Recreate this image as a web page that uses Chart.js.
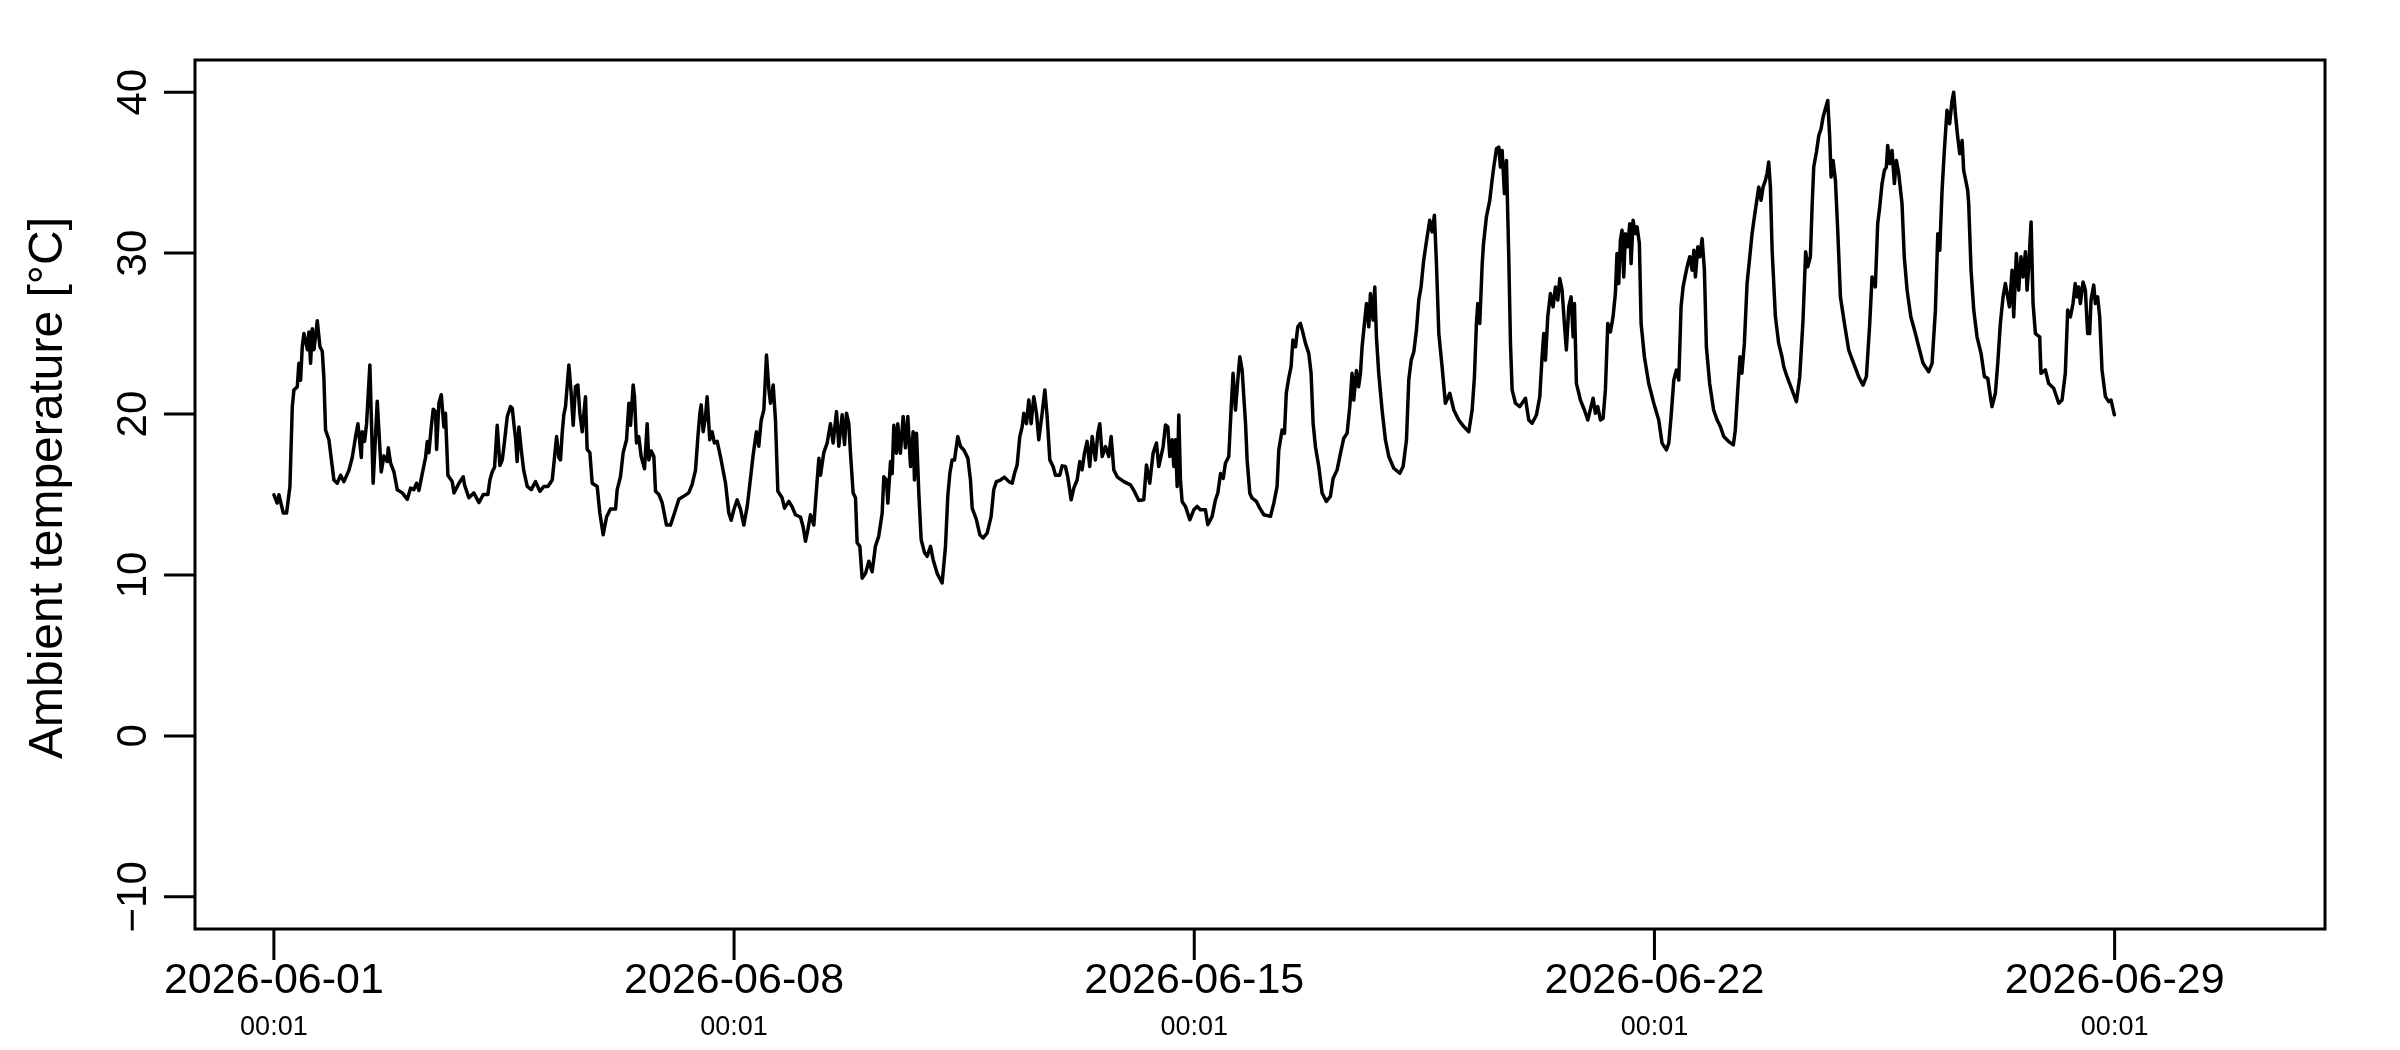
<!DOCTYPE html>
<html>
<head>
<meta charset="utf-8">
<title>Ambient temperature</title>
<script src="https://cdn.jsdelivr.net/npm/chart.js@4/dist/chart.umd.min.js"></script>
<style>
    html, body { margin: 0; padding: 0; background: #ffffff; }
    #wrap { width: 2400px; height: 1050px; }
</style>
</head>
<body>
<div id="wrap"><canvas id="tempChart" width="2400" height="1050"></canvas></div>
<script>
// Time of each reading, in days since 2026-06-01 00:01
const sampleDays = [
    0.0, 0.05, 0.077, 0.143, 0.193, 0.244, 0.28, 0.305, 0.356, 0.38,
    0.406, 0.432, 0.457, 0.51, 0.533, 0.558, 0.584, 0.61, 0.66, 0.70,
    0.736, 0.76, 0.786, 0.837, 0.913, 0.964, 1.015, 1.065, 1.141, 1.192,
    1.243, 1.278, 1.33, 1.344, 1.38, 1.41, 1.46, 1.51, 1.572, 1.633,
    1.674, 1.724, 1.74, 1.775, 1.826, 1.877, 1.953, 2.03, 2.08, 2.13,
    2.17, 2.206, 2.257, 2.307, 2.333, 2.358, 2.394, 2.424, 2.46, 2.475,
    2.51, 2.546, 2.586, 2.61, 2.647, 2.713, 2.74, 2.815, 2.88, 2.9,
    2.966, 3.04, 3.12, 3.185, 3.255, 3.286, 3.32, 3.357, 3.397, 3.438,
    3.474, 3.5, 3.55, 3.6, 3.626, 3.65, 3.676, 3.7, 3.727, 3.762,
    3.8, 3.854, 3.915, 3.98, 4.046, 4.107, 4.168, 4.234, 4.27, 4.3,
    4.335, 4.36, 4.385, 4.41, 4.436, 4.487, 4.522, 4.553, 4.588, 4.624,
    4.654, 4.69, 4.74, 4.765, 4.806, 4.842, 4.918, 4.958, 5.009, 5.06,
    5.12, 5.197, 5.222, 5.272, 5.313, 5.364, 5.4, 5.425, 5.465, 5.485,
    5.516, 5.55, 5.587, 5.638, 5.678, 5.703, 5.74, 5.78, 5.805, 5.856,
    5.906, 5.972, 6.033, 6.094, 6.16, 6.236, 6.31, 6.36, 6.413, 6.45,
    6.48, 6.5, 6.53, 6.565, 6.59, 6.63, 6.667, 6.7, 6.743, 6.793,
    6.87, 6.92, 6.956, 6.996, 7.047, 7.1, 7.148, 7.2, 7.25, 7.29,
    7.34, 7.376, 7.412, 7.453, 7.493, 7.53, 7.554, 7.595, 7.63, 7.666,
    7.73, 7.767, 7.833, 7.88, 7.934, 8.01, 8.05, 8.086, 8.122, 8.162,
    8.213, 8.264, 8.29, 8.314, 8.365, 8.416, 8.466, 8.507, 8.558, 8.593,
    8.644, 8.68, 8.71, 8.745, 8.77, 8.811, 8.847, 8.872, 8.913, 8.948,
    9.0, 9.05, 9.1, 9.15, 9.2, 9.253, 9.278, 9.318, 9.339, 9.38,
    9.405, 9.43, 9.47, 9.49, 9.53, 9.572, 9.607, 9.643, 9.684, 9.724,
    9.744, 9.775, 9.81, 9.846, 9.896, 9.937, 9.988, 10.028, 10.089, 10.165,
    10.216, 10.251, 10.282, 10.317, 10.353, 10.403, 10.444, 10.495, 10.556, 10.596,
    10.622, 10.687, 10.738, 10.789, 10.85, 10.91, 10.95, 10.99, 11.052, 11.113,
    11.179, 11.23, 11.265, 11.306, 11.346, 11.382, 11.407, 11.448, 11.483, 11.519,
    11.559, 11.6, 11.635, 11.686, 11.727, 11.762, 11.803, 11.853, 11.889, 11.955,
    11.99, 12.04, 12.076, 12.127, 12.168, 12.218, 12.259, 12.294, 12.33, 12.37,
    12.41, 12.447, 12.497, 12.533, 12.563, 12.6, 12.65, 12.7, 12.736, 12.776,
    12.827, 12.928, 13.03, 13.09, 13.156, 13.232, 13.273, 13.323, 13.374, 13.425,
    13.46, 13.527, 13.562, 13.598, 13.628, 13.663, 13.689, 13.714, 13.74, 13.765,
    13.79, 13.815, 13.866, 13.932, 13.993, 14.044, 14.094, 14.17, 14.206, 14.272,
    14.322, 14.358, 14.4, 14.44, 14.474, 14.525, 14.56, 14.59, 14.627, 14.662,
    14.693, 14.728, 14.78, 14.804, 14.845, 14.88, 14.946, 14.997, 15.058, 15.16,
    15.21, 15.26, 15.286, 15.336, 15.372, 15.4, 15.44, 15.473, 15.5, 15.54,
    15.575, 15.615, 15.656, 15.692, 15.742, 15.777, 15.808, 15.843, 15.894, 15.945,
    16.01, 16.07, 16.112, 16.173, 16.224, 16.274, 16.325, 16.366, 16.4, 16.426,
    16.467, 16.5, 16.528, 16.553, 16.578, 16.62, 16.655, 16.68, 16.72, 16.746,
    16.771, 16.806, 16.857, 16.908, 16.959, 17.035, 17.126, 17.177, 17.228, 17.263,
    17.3, 17.34, 17.38, 17.415, 17.45, 17.49, 17.542, 17.582, 17.618, 17.653,
    17.684, 17.72, 17.77, 17.82, 17.887, 17.948, 18.023, 18.1, 18.176, 18.227,
    18.262, 18.292, 18.313, 18.343, 18.38, 18.4, 18.444, 18.495, 18.53, 18.556,
    18.597, 18.632, 18.657, 18.683, 18.718, 18.749, 18.784, 18.81, 18.835, 18.886,
    18.95, 19.038, 19.088, 19.14, 19.205, 19.256, 19.291, 19.316, 19.342, 19.377,
    19.418, 19.458, 19.494, 19.53, 19.56, 19.595, 19.63, 19.66, 19.697, 19.732,
    19.763, 19.783, 19.813, 19.874, 19.935, 19.986, 20.036, 20.067, 20.102, 20.138,
    20.178, 20.219, 20.254, 20.29, 20.33, 20.37, 20.406, 20.43, 20.457, 20.482,
    20.507, 20.533, 20.558, 20.594, 20.624, 20.645, 20.675, 20.71, 20.736, 20.771,
    20.797, 20.847, 20.913, 20.99, 21.065, 21.116, 21.182, 21.218, 21.253, 21.294,
    21.334, 21.37, 21.405, 21.436, 21.471, 21.497, 21.537, 21.573, 21.6, 21.623,
    21.66, 21.69, 21.725, 21.76, 21.79, 21.84, 21.9, 21.953, 22.003, 22.054,
    22.13, 22.2, 22.23, 22.267, 22.3, 22.33, 22.368, 22.409, 22.45, 22.485,
    22.52, 22.55, 22.587, 22.622, 22.652, 22.688, 22.713, 22.738, 22.764, 22.79,
    22.84, 22.89, 22.94, 22.967, 23.017, 23.093, 23.16, 23.21, 23.26, 23.3,
    23.332, 23.372, 23.398, 23.423, 23.464, 23.5, 23.535, 23.565, 23.6, 23.636,
    23.666, 23.687, 23.717, 23.753, 23.788, 23.829, 23.89, 23.955, 24.03, 24.107,
    24.173, 24.224, 24.275, 24.31, 24.36, 24.396, 24.427, 24.462, 24.498, 24.528,
    24.548, 24.58, 24.614, 24.65, 24.68, 24.716, 24.766, 24.8, 24.843, 24.9,
    24.97, 25.02, 25.086, 25.172, 25.223, 25.274, 25.31, 25.34, 25.375, 25.41,
    25.45, 25.49, 25.527, 25.552, 25.578, 25.613, 25.644, 25.68, 25.704, 25.745,
    25.765, 25.78, 25.816, 25.857, 25.907, 25.968, 26.019, 26.07, 26.11, 26.135,
    26.186, 26.222, 26.262, 26.303, 26.338, 26.364, 26.4, 26.44, 26.465, 26.505,
    26.541, 26.576, 26.607, 26.643, 26.668, 26.693, 26.729, 26.759, 26.795, 26.86,
    26.88, 26.946, 26.997, 27.073, 27.15, 27.2, 27.25, 27.286, 27.327, 27.367,
    27.4, 27.428, 27.453, 27.479, 27.52, 27.555, 27.59, 27.62, 27.641, 27.682,
    27.707, 27.742, 27.773, 27.808, 27.86, 27.91, 27.945, 27.996
];

// Ambient temperature readings [°C], one per entry of sampleDays
const ambientTemps = [
    14.98, 14.47, 14.98, 13.85, 13.85, 15.5, 20.46, 21.5, 21.7, 23.15,
    22.1, 24.2, 25.0, 24.0, 25.1, 23.15, 25.3, 24.0, 25.8, 24.2,
    23.9, 22.3, 19.0, 18.4, 15.9, 15.7, 16.2, 15.8, 16.5, 17.3,
    18.6, 19.4, 17.3, 18.9, 18.3, 19.4, 23.05, 15.7, 20.8, 16.4,
    17.4, 17.05, 17.9, 16.95, 16.4, 15.3, 15.1, 14.7, 15.4, 15.3,
    15.7, 15.25, 16.3, 17.3, 18.3, 17.6, 19.2, 20.3, 20.15, 17.8,
    20.67, 21.2, 19.2, 20.05, 16.2, 15.8, 15.1, 15.7, 16.1, 15.6,
    14.8, 15.1, 14.5, 15.0, 15.0, 15.9, 16.4, 16.7, 19.3, 16.8,
    17.15, 18.0, 19.85, 20.46, 20.36, 19.4, 18.5, 17.05, 19.2, 17.8,
    16.5, 15.5, 15.3, 15.8, 15.2, 15.5, 15.5, 15.9, 17.36, 18.6,
    17.3, 17.15, 18.8, 19.95, 20.46, 23.05, 21.3, 19.3, 21.7, 21.8,
    20.05, 18.9, 21.08, 17.8, 17.6, 15.7, 15.5, 13.85, 12.5, 13.6,
    14.1, 14.1, 15.3, 16.1, 17.6, 18.4, 20.67, 19.3, 21.8, 21.08,
    18.2, 18.6, 17.36, 16.6, 19.4, 17.15, 17.7, 17.36, 15.2, 15.0,
    14.5, 13.1, 13.1, 13.85, 14.7, 14.9, 15.1, 15.6, 16.5, 18.6,
    20.05, 20.57, 18.9, 19.8, 21.08, 18.4, 18.9, 18.2, 18.3, 17.36,
    15.7, 13.85, 13.4, 14.05, 14.67, 14.05, 13.1, 14.26, 16.0, 17.46,
    18.9, 18.0, 19.6, 20.26, 23.67, 21.5, 20.67, 21.8, 19.6, 15.2,
    14.8, 14.15, 14.57, 14.26, 13.74, 13.6, 13.0, 12.09, 12.8, 13.74,
    13.1, 15.9, 17.26, 16.2, 17.6, 18.2, 19.4, 18.2, 20.15, 18.0,
    19.95, 18.1, 20.05, 19.4, 17.6, 15.1, 14.8, 12.0, 11.78, 9.8,
    10.1, 10.85, 10.2, 11.78, 12.4, 13.85, 16.1, 15.9, 14.47, 17.05,
    16.3, 19.3, 17.57, 19.4, 17.57, 19.85, 17.9, 19.85, 16.74, 18.9,
    15.9, 18.8, 15.1, 12.2, 11.4, 11.16, 11.78, 10.95, 10.1, 9.5,
    11.78, 14.9, 16.3, 17.15, 17.15, 18.6, 17.98, 17.77, 17.26, 15.9,
    14.15, 13.43, 12.5, 12.3, 12.6, 13.64, 15.3, 15.8, 15.9, 16.08,
    15.8, 15.7, 16.3, 16.84, 18.6, 19.2, 20.05, 19.4, 20.88, 19.4,
    21.08, 20.05, 18.4, 20.05, 21.5, 19.85, 17.15, 16.74, 16.2, 16.2,
    16.78, 16.74, 16.1, 14.67, 15.4, 15.9, 17.05, 16.53, 17.57, 18.3,
    16.74, 18.6, 17.15, 18.8, 19.4, 17.36, 17.98, 17.36, 18.6, 16.53,
    16.1, 15.8, 15.6, 15.19, 14.63, 14.67, 16.84, 15.7, 17.57, 18.2,
    16.74, 17.98, 19.32, 19.2, 17.36, 18.4, 16.74, 18.4, 15.5, 19.94,
    15.9, 14.57, 14.26, 13.43, 14.05, 14.26, 14.05, 14.05, 13.12, 13.64,
    14.67, 15.08, 16.3, 16.0, 16.94, 17.36, 20.25, 22.53, 20.25, 22.1,
    23.56, 22.73, 19.42, 17.15, 15.08, 14.77, 14.57, 14.15, 13.74, 13.64,
    14.46, 15.5, 17.77, 19.0, 18.8, 21.3, 22.3, 22.94, 24.6, 24.18,
    25.42, 25.63, 25.0, 24.39, 23.77, 22.53, 19.42, 17.98, 16.74, 15.08,
    14.57, 14.88, 16.0, 16.53, 17.56, 18.5, 18.8, 20.46, 22.53, 20.87,
    22.7, 21.7, 22.53, 24.18, 25.2, 26.87, 25.42, 27.49, 25.84, 27.9,
    24.8, 22.53, 20.25, 18.39, 17.36, 16.63, 16.32, 16.74, 18.39, 22.11,
    23.35, 23.87, 25.22, 27.08, 27.9, 29.56, 31.0, 32.04, 31.32, 32.35,
    29.35, 25.0, 22.94, 20.67, 21.29, 20.25, 19.63, 19.22, 18.9, 20.25,
    22.32, 25.63, 26.87, 25.63, 29.35, 30.6, 32.25, 33.28, 34.52, 35.35,
    36.49, 36.59, 35.35, 36.38, 33.7, 35.76, 29.77, 24.4, 21.5, 20.67,
    20.46, 20.98, 19.63, 19.43, 19.94, 21.08, 23.56, 25.0, 23.35, 26.04,
    27.49, 26.66, 27.9, 27.08, 28.42, 27.7, 25.63, 23.98, 26.66, 27.28,
    24.8, 26.87, 21.9, 20.87, 20.25, 19.63, 20.46, 20.98, 20.05, 20.46,
    19.63, 19.74, 21.5, 25.63, 25.1, 26.04, 27.49, 29.97, 28.11, 30.8,
    31.42, 28.52, 31.21, 30.4, 31.83, 29.35, 32.04, 31.21, 31.63, 30.6,
    25.63, 23.56, 21.9, 20.67, 19.63, 18.19, 17.77, 18.19, 19.84, 22.11,
    22.73, 22.11, 26.66, 27.9, 28.63, 29.15, 29.77, 28.94, 30.18, 28.52,
    30.39, 29.77, 30.9, 28.94, 24.18, 21.9, 20.25, 19.63, 19.22, 18.6,
    18.29, 18.08, 19.0, 21.5, 23.56, 22.53, 24.39, 28.11, 29.77, 31.21,
    32.25, 33.08, 34.1, 33.28, 34.1, 34.52, 34.94, 35.66, 34.1, 30.18,
    26.04, 24.39, 23.56, 22.94, 22.32, 21.5, 20.77, 22.32, 25.84, 30.08,
    29.15, 29.77, 32.87, 35.35, 36.28, 37.31, 37.73, 38.45, 38.97, 39.48,
    37.21, 34.73, 35.76, 34.52, 31.42, 27.28, 25.63, 23.98, 23.15, 22.32,
    21.8, 22.32, 25.63, 28.52, 27.9, 31.83, 32.87, 34.32, 35.14, 35.35,
    36.69, 35.56, 36.38, 34.32, 35.76, 34.94, 33.07, 29.77, 27.7, 26.04,
    25.0, 24.18, 23.15, 22.63, 23.15, 26.46, 31.21, 30.18, 33.9, 36.38,
    38.87, 38.04, 39.48, 40.0, 38.66, 37.21, 36.18, 37.0, 35.14, 34.32,
    33.9, 33.07, 28.94, 26.46, 24.8, 23.77, 22.32, 22.22, 21.08, 20.46,
    21.29, 23.15, 25.63, 27.28, 28.11, 27.49, 26.66, 28.94, 26.04, 29.97,
    27.7, 29.77, 28.52, 30.08, 27.7, 29.15, 31.94, 26.87, 25.0, 24.8,
    22.53, 22.74, 21.9, 21.6, 20.67, 20.87, 22.53, 26.46, 26.04, 26.87,
    28.11, 27.28, 27.9, 26.87, 28.21, 27.7, 25.0, 25.0, 27.08, 28.01,
    26.87, 27.28, 26.04, 22.74, 21.08, 20.77, 20.87, 19.95
];

// Axis ticks
const xTickDays = [0, 7, 14, 21, 28];
const xTickDates = ['2026-06-01', '2026-06-08', '2026-06-15', '2026-06-22', '2026-06-29'];
const xTickTimes = ['00:01', '00:01', '00:01', '00:01', '00:01'];
const yTickValues = [-10, 0, 10, 20, 30, 40];
const yTickLabels = ['\u221210', '0', '10', '20', '30', '40'];
const yAxisTitle = 'Ambient temperature [\u00b0C]';

const FONT = '"Liberation Sans", Arial, Helvetica, sans-serif';

if (sampleDays.length !== ambientTemps.length) {
    console.warn('length mismatch', sampleDays.length, ambientTemps.length);
}

// Base-graphics style frame: box, outside ticks, rotated y labels
const baseAxesPlugin = {
    id: 'baseAxes',
    afterDraw(chart) {
        const ctx = chart.ctx;
        const area = chart.chartArea;
        const xScale = chart.scales.x;
        const yScale = chart.scales.y;
        const tickLen = 31;

        ctx.save();
        ctx.strokeStyle = '#000000';
        ctx.fillStyle = '#000000';
        ctx.lineWidth = 3;
        ctx.lineCap = 'butt';

        ctx.strokeRect(area.left, area.top, area.right - area.left, area.bottom - area.top);

        // y axis ticks
        ctx.beginPath();
        yTickValues.forEach(v => {
            const py = yScale.getPixelForValue(v);
            ctx.moveTo(area.left - tickLen, py);
            ctx.lineTo(area.left, py);
        });
        // x axis ticks
        xTickDays.forEach(d => {
            const px = xScale.getPixelForValue(d);
            ctx.moveTo(px, area.bottom);
            ctx.lineTo(px, area.bottom + tickLen);
        });
        ctx.stroke();

        // y tick labels, rotated to read upward
        ctx.font = '42px ' + FONT;
        ctx.textAlign = 'center';
        ctx.textBaseline = 'alphabetic';
        yTickValues.forEach((v, i) => {
            const py = yScale.getPixelForValue(v);
            ctx.save();
            ctx.translate(146, py);
            ctx.rotate(-Math.PI / 2);
            ctx.fillText(yTickLabels[i], 0, 0);
            ctx.restore();
        });

        // x tick labels: date, then time underneath
        xTickDays.forEach((d, i) => {
            const px = xScale.getPixelForValue(d);
            ctx.font = '43px ' + FONT;
            ctx.fillText(xTickDates[i], px, area.bottom + 64);
            ctx.font = '27px ' + FONT;
            ctx.fillText(xTickTimes[i], px, area.bottom + 106);
        });

        // y axis title
        ctx.font = '48px ' + FONT;
        ctx.save();
        ctx.translate(62, 488);
        ctx.rotate(-Math.PI / 2);
        ctx.fillText(yAxisTitle, 0, 0);
        ctx.restore();

        ctx.restore();
    }
};

const ctx = document.getElementById('tempChart').getContext('2d');
new Chart(ctx, {
    type: 'line',
    data: {
        datasets: [{
            label: 'Ambient temperature',
            data: sampleDays.map((d, i) => ({ x: d, y: ambientTemps[i] })),
            borderColor: '#000000',
            borderWidth: 3.5,
            borderJoinStyle: 'round',
            borderCapStyle: 'round',
            pointRadius: 0,
            tension: 0,
            fill: false
        }]
    },
    options: {
        responsive: false,
        devicePixelRatio: 1,
        animation: false,
        layout: {
            padding: { left: 195, right: 75, top: 60, bottom: 121 }
        },
        plugins: {
            legend: { display: false },
            tooltip: { enabled: false }
        },
        scales: {
            x: {
                type: 'linear',
                min: -1.2,
                max: 31.2,
                display: false
            },
            y: {
                min: -12,
                max: 42,
                display: false
            }
        }
    },
    plugins: [baseAxesPlugin]
});
</script>
</body>
</html>
